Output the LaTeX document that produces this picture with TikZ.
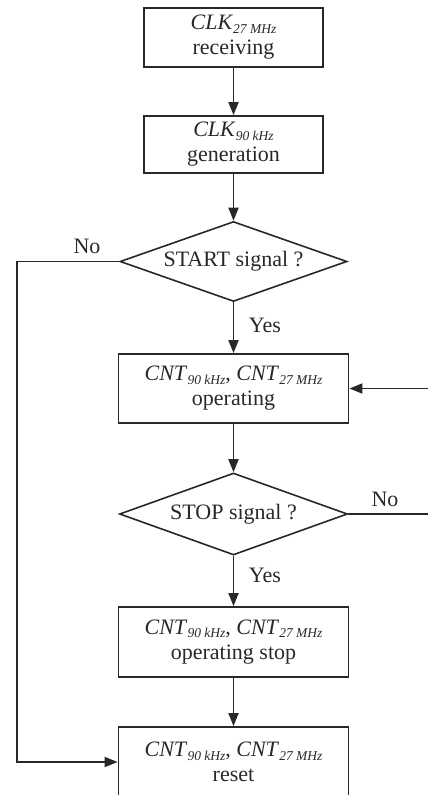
\documentclass[tikz,border=0pt]{standalone}
\usepackage{fontspec}
\setmainfont{Liberation Serif}
\usetikzlibrary{shapes.geometric,arrows.meta}
\definecolor{ink}{RGB}{40,40,40}
\newcommand{\sbs}[1]{\raisebox{-0.35ex}{\fontsize{13.5}{13.5}\selectfont\itshape #1}}
\begin{document}
\begin{tikzpicture}[x=1pt,y=-1pt,
  every node/.style={text=ink,font=\fontsize{22}{25}\selectfont},
  procbox/.style={draw=ink,line width=1.8pt,rectangle,align=center,inner sep=0pt},
  decision/.style={draw=ink,line width=1.6pt,diamond,aspect=2.84,inner sep=0pt},
  conn/.style={draw=ink,line width=1.8pt},
  arr/.style={conn,-{Triangle[length=13pt,width=10pt]}},
  lbl/.style={inner sep=0pt}]
\useasboundingbox (0,0) rectangle (428,795);
\node[procbox,minimum width=179pt,minimum height=59pt] (b1) at (233.5,37.5) {\textit{CLK}\sbs{27 MHz}\\receiving};
\node[procbox,minimum width=179pt,minimum height=57pt] (b2) at (233.5,144.5) {\textit{CLK}\sbs{90 kHz}\\generation};
\node[decision,minimum width=227pt,minimum height=80pt] (d1) at (233.5,261.5) {START signal ?};
\node[procbox,minimum width=230pt,minimum height=69pt] (b3) at (233.5,388.5) {\textit{CNT}\sbs{90 kHz}, \textit{CNT}\sbs{27 MHz}\\operating};
\node[decision,minimum width=228pt,minimum height=82pt] (d2) at (233.5,514) {STOP signal ?};
\node[procbox,minimum width=230pt,minimum height=70pt] (b4) at (233.5,642) {\textit{CNT}\sbs{90 kHz}, \textit{CNT}\sbs{27 MHz}\\operating stop};
\node[procbox,minimum width=230pt,minimum height=70pt] (b5) at (233.5,762) {\textit{CNT}\sbs{90 kHz}, \textit{CNT}\sbs{27 MHz}\\reset};
\coordinate (l1) at (17,261.5);
\coordinate (l2) at (17,762);
\coordinate (r1) at (430,514);
\coordinate (r2) at (430,388.5);
\draw[arr] (b1) -- (b2);
\draw[arr] (b2) -- (d1);
\draw[arr] (d1) -- (b3);
\draw[arr] (b3) -- (d2);
\draw[arr] (d2) -- (b4);
\draw[arr] (b4) -- (b5);
\draw[arr] (d1.west) -- (l1) -- (l2) -- (b5.west);
\draw[arr] (d2.east) -- (r1) -- (r2) -- (b3.east);
\node[lbl] (no1) at (87,246) {No};
\node[lbl] (no2) at (385,499) {No};
\node[lbl] (yes1) at (265,325) {Yes};
\node[lbl] (yes2) at (265,575) {Yes};
\end{tikzpicture}
\end{document}
